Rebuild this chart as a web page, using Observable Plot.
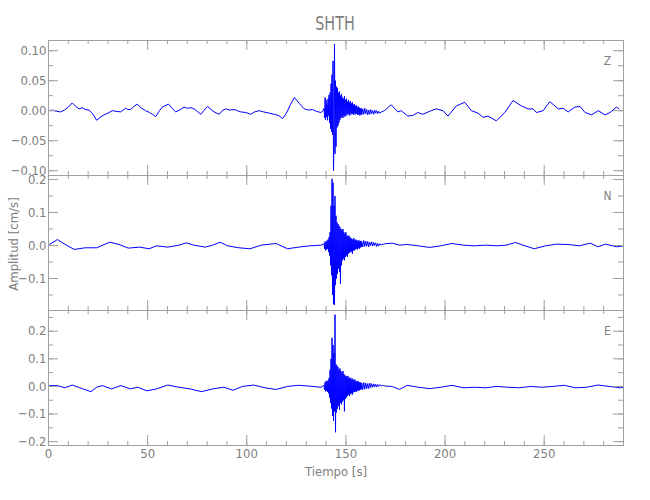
<!DOCTYPE html>
<html><head><meta charset="utf-8">
<script src="https://cdn.jsdelivr.net/npm/d3@7"></script>
<script src="https://cdn.jsdelivr.net/npm/@observablehq/plot@0.6"></script>
<style>
body{margin:0;background:#fff;}
#wrap{position:relative;width:650px;height:500px;font-family:"Liberation Sans Narrow","DejaVu Sans Condensed","Liberation Sans",sans-serif;color:#808080;}
.p{position:absolute;left:0;}
.lbl{position:absolute;white-space:nowrap;}
</style></head><body>
<div id="wrap">
 <div class="lbl" style="left:335px;top:23px;font-size:20px;transform:translate(-50%,-50%) scaleX(0.8);">SHTH</div>
 <div class="lbl" style="left:13px;top:244px;font-size:13px;transform:translate(-50%,-50%) rotate(-90deg);">Amplitud [cm/s]</div>
 <div class="lbl" style="left:336px;top:471px;font-size:13px;transform:translate(-50%,-50%);">Tiempo [s]</div>
</div>
<script>
// ---- data ----
const components = ["Z", "N", "E"];
const xMajor = [0, 50, 100, 150, 200, 250];
const burstStart = 139, burstStep = 0.25;

// Z component: quiet part [t, v] and burst samples
const zQuiet = [[0,0],[2,0.001],[4,-0.001],[6.1,-0.002],[8,0.001],[10,0.006],[12,0.013],[13.5,0.008],[15.4,0.003],[17,0.005],[18.5,0.002],[20.5,0.001],[22.5,-0.006],[24.3,-0.016],[26,-0.011],[28,-0.007],[30,-0.004],[32.2,0],[34,-0.001],[36.4,-0.002],[38.9,0.004],[40,0.002],[41.4,0.002],[43,0.007],[44.8,0.011],[46.5,0.005],[49,0],[51,-0.003],[52.5,-0.006],[54.1,-0.010],[55.5,-0.002],[57.4,0.006],[60.5,0.011],[62.3,0.004],[64.2,-0.002],[66,0.001],[68.4,0.006],[70,0.004],[71.8,0.005],[73.4,0.003],[75,-0.001],[76.8,-0.006],[78.5,0.001],[80.2,0.007],[82,0.002],[83.5,-0.002],[86.1,-0.006],[88,0.001],[89.4,0.003],[91.5,0.001],[93.6,0.002],[95.3,0],[97,-0.002],[99.5,-0.003],[102,-0.006],[104,-0.002],[106.2,0],[108.5,-0.002],[111.3,-0.004],[113.8,-0.006],[116,-0.008],[118.1,-0.013],[120,-0.004],[122,0.010],[124,0.022],[126.5,0.012],[129,0.003],[131,0.001],[133.2,0.002],[135,-0.001],[137.4,-0.003],[138.5,0],
 [158.5,0.003],[159,-0.006],[159.5,0.004],[160,-0.005],[160.5,0.002],[161,-0.007],[161.5,0.001],[162,-0.006],[162.5,0.002],[163,-0.005],[163.5,0],[164,-0.006],[164.5,0.001],[165,-0.004],[165.5,0],[166,-0.005],[166.5,-0.001],[167,-0.004],[168,-0.002],
 [169.4,0],[172.8,0.010],[176.2,-0.002],[177.9,0],[181.2,-0.009],[183.7,-0.008],[186.3,-0.003],[188.8,-0.006],[193,0],[195.6,0.003],[199,0],[201.5,-0.009],[205.7,0.008],[209.9,0.014],[213.3,0],[216.6,-0.004],[219.2,-0.011],[221.7,-0.009],[225.9,-0.017],[230.1,-0.003],[234.3,0.017],[238.5,0.008],[241.9,0.003],[244.4,0.003],[246.1,-0.003],[249.5,0],[252.8,0.015],[255.4,0.008],[257.1,0.003],[259.6,0.004],[262.1,-0.002],[265.5,0.006],[268.1,0.007],[270.6,-0.003],[273.9,-0.007],[277.3,0],[280.7,-0.007],[283.2,-0.003],[286.5,0.006],[287.7,0.003]];
const zBurst = [0.004,-0.012,0.022,-0.015,0.018,-0.010,0.012,-0.016,0.020,-0.008,0.026,-0.020,0.030,-0.030,0.045,-0.035,
 0.060,-0.040,0.083,-0.100,-0.030,0.111,-0.072,0.050,-0.060,0.040,-0.028,0.038,-0.025,0.030,-0.020,0.032,
 -0.015,0.025,-0.012,0.028,-0.010,0.022,-0.012,0.020,-0.008,0.024,-0.010,0.018,-0.006,0.020,-0.008,0.015,
 -0.005,0.018,-0.006,0.014,-0.008,0.016,-0.004,0.012,-0.006,0.014,-0.005,0.010,-0.007,0.011,-0.004,0.008,
 -0.006,0.009,-0.005,0.006,-0.007,0.007,-0.006,0.005,-0.008,0.004,-0.006,0.004,-0.007];

// N component
const nQuiet = [[0,0.002],[0.5,0.003],[4.5,0.018],[7.3,0.007],[12.9,-0.012],[18.6,-0.007],[24.3,-0.007],[30.9,0.010],[35.6,0.003],[40.3,-0.008],[46,-0.005],[50.7,-0.010],[54.5,-0.001],[60.1,-0.005],[65.8,0.001],[69.5,0.008],[73.3,0.001],[79,-0.005],[82.8,0.001],[86.5,0.010],[90.3,-0.001],[96,-0.007],[101.6,-0.010],[107.3,0.001],[114.8,0.006],[120.5,-0.010],[126.1,-0.005],[131.8,-0.001],[137.5,0.001],
 [158.5,-0.004],[159,0.015],[159.5,-0.003],[160,0.013],[160.5,-0.002],[161,0.012],[161.5,-0.004],[162,0.010],[162.5,0],[163,0.011],[163.5,-0.002],[164,0.009],[164.5,0],[165,0.008],[165.5,-0.003],[166,0.006],[166.5,-0.002],[167,0.005],[168,0.002],
 [169.5,0.005],[173.3,0.007],[177.1,0.001],[180.9,0.003],[186.5,-0.001],[192.2,-0.006],[197.8,-0.001],[203.5,0.006],[209.2,0.001],[214.8,-0.001],[220.5,0.001],[226.1,-0.001],[230.8,0.001],[235.6,0.009],[239.3,0.001],[245,-0.010],[250.7,-0.001],[256.3,0.004],[262,0.003],[267.7,-0.001],[273.3,0.007],[277.1,-0.004],[280.9,0.004],[286.5,-0.004],[290,-0.001]];
const nBurst = [0.005,-0.010,0.012,-0.015,0.010,-0.012,0.015,-0.010,0.018,-0.020,0.025,-0.030,0.040,-0.060,0.120,-0.090,
 0.202,-0.150,0.190,-0.178,0.120,-0.180,0.150,-0.120,0.090,-0.100,0.070,-0.085,0.065,-0.070,0.060,-0.080,
 0.055,-0.116,0.050,-0.060,0.045,-0.045,0.050,-0.040,0.040,-0.045,0.035,-0.035,0.040,-0.030,0.030,-0.035,
 0.028,-0.025,0.030,-0.022,0.025,-0.020,0.022,-0.018,0.020,-0.025,0.018,-0.015,0.022,-0.015,0.016,-0.012,
 0.018,-0.010,0.015,-0.012,0.014,-0.008,0.016,-0.010,0.012,-0.006,0.014,-0.005,0.012];

// E component
const eQuiet = [[0,0.002],[0.5,0.003],[4.5,0.003],[8.2,-0.005],[12,0.005],[15.8,-0.005],[21.4,-0.019],[24.3,-0.003],[27.1,0.003],[31.8,-0.009],[36.5,0.003],[41.2,-0.009],[45,-0.003],[49.7,-0.016],[54.5,-0.009],[60.1,0.005],[65.8,-0.003],[71.4,-0.009],[77.1,-0.019],[82.8,-0.009],[88.4,-0.003],[93.1,-0.014],[97.8,0],[103.5,0.005],[109.2,-0.005],[114.8,-0.011],[120.5,0],[126.1,0.004],[131.8,0.001],[137.5,-0.003],
 [158.5,-0.012],[159,0.014],[159.5,-0.010],[160,0.012],[160.5,-0.008],[161,0.010],[161.5,-0.008],[162,0.012],[162.5,-0.004],[163,0.010],[163.5,-0.003],[164,0.009],[164.5,-0.002],[165,0.008],[165.5,-0.002],[166,0.007],[166.5,0],[167,0.006],[168,0.002],[169,0.004],[170,0.001],
 [173.3,0],[177.1,-0.011],[180.9,0.004],[186.5,-0.003],[192.2,-0.008],[197.8,-0.003],[203.5,0.004],[209.2,-0.005],[214.8,-0.003],[220.5,-0.005],[226.1,0],[231.8,-0.003],[237.5,-0.005],[243.1,0],[248.8,-0.003],[254.4,0],[260.1,0.004],[265.8,-0.005],[271.4,-0.003],[277.1,0.005],[282.8,0],[288.4,-0.005],[290,-0.004]];
const eBurst = [0.004,-0.012,0.015,-0.018,0.020,-0.015,0.018,-0.020,0.022,-0.025,0.030,-0.040,0.060,-0.060,0.100,-0.080,
 0.176,-0.106,0.150,-0.124,0.120,-0.090,0.260,-0.166,0.080,-0.094,0.075,-0.080,0.070,-0.070,0.060,-0.085,
 0.065,-0.060,0.055,-0.065,0.050,-0.055,0.056,-0.050,0.045,-0.090,0.040,-0.045,0.038,-0.040,0.035,-0.035,
 0.038,-0.030,0.030,-0.035,0.032,-0.028,0.030,-0.025,0.025,-0.030,0.028,-0.022,0.022,-0.020,0.025,-0.018,
 0.020,-0.020,0.018,-0.015,0.020,-0.016,0.015,-0.014,0.016,-0.012,0.014,-0.010,0.012];

const zYDomain = [-0.108, 0.117], nYDomain = [-0.197, 0.212], eYDomain = [-0.214, 0.275];
const zYMajor = [-0.10, -0.05, 0, 0.05, 0.10];
const zYMinor = [-0.1, -0.075, -0.05, -0.025, 0, 0.025, 0.05, 0.075, 0.1];
const nYMajor = [-0.1, 0, 0.1, 0.2];
const nYMinor = [-0.15, -0.1, -0.05, 0, 0.05, 0.1, 0.15, 0.2];
const eYMajor = [-0.2, -0.1, 0, 0.1, 0.2];
const eYMinor = [-0.2, -0.15, -0.1, -0.05, 0, 0.05, 0.1, 0.15, 0.2, 0.25];

// ---- build ----
function series(quiet, burst) {
  const pts = quiet.map(([t, v]) => ({t, v}));
  burst.forEach((v, i) => pts.push({t: burstStart + i * burstStep, v}));
  return pts.sort((a, b) => a.t - b.t);
}

const W = 650, ML = 48, MR = 27, FH = 135;
const FW = W - ML - MR;
const xMinor = d3.range(0, 291, 10);
const axisColor = "#a0a0a0";

function panel({data, domain, major, minor, fmt, name, top, marginTop, marginBottom, xLabels}) {
  const marks = [
    Plot.line(data, {x: "t", y: "v", stroke: "#0000ff", strokeWidth: 1, clip: true}),
    Plot.frame({stroke: axisColor}),
    Plot.tickY(major, {y: d => d, stroke: axisColor, insetRight: FW - 10}),
    Plot.tickY(minor, {y: d => d, stroke: axisColor, insetRight: FW - 5}),
    Plot.tickY(major, {y: d => d, stroke: axisColor, insetLeft: FW - 10}),
    Plot.tickY(minor, {y: d => d, stroke: axisColor, insetLeft: FW - 5}),
    Plot.tickX(xMajor, {x: d => d, stroke: axisColor, insetBottom: FH - 10}),
    Plot.tickX(xMinor, {x: d => d, stroke: axisColor, insetBottom: FH - 4}),
    Plot.tickX(xMajor, {x: d => d, stroke: axisColor, insetTop: FH - 10}),
    Plot.tickX(xMinor, {x: d => d, stroke: axisColor, insetTop: FH - 4}),
    Plot.axisY(major, {anchor: "left", tickSize: 0, tickPadding: 2, tickFormat: d3.format(fmt), label: null}),
    Plot.text([name], {frameAnchor: "top-right", dx: -16, dy: 21, textAnchor: "middle", lineAnchor: "middle", fill: "#808080", fontSize: 12})
  ];
  if (xLabels) marks.push(Plot.axisX(xMajor, {anchor: "bottom", tickSize: 0, tickPadding: 3, tickFormat: d => String(d), label: null}));
  const svg = Plot.plot({
    width: W, height: FH + marginTop + marginBottom,
    marginLeft: ML, marginRight: MR, marginTop, marginBottom,
    x: {domain: [0, 290], axis: null},
    y: {domain, axis: null},
    style: {background: "transparent", overflow: "visible", color: "#808080",
            fontFamily: '"Liberation Sans Narrow","DejaVu Sans Condensed","Liberation Sans",sans-serif', fontSize: "13px"},
    marks
  });
  svg.classList.add("p");
  svg.style.top = top + "px";
  svg.style.position = "absolute";
  document.getElementById("wrap").appendChild(svg);
}

panel({data: series(zQuiet, zBurst), domain: zYDomain, major: zYMajor, minor: zYMinor, fmt: ".2f", name: components[0], top: 0, marginTop: 40, marginBottom: 0});
panel({data: series(nQuiet, nBurst), domain: nYDomain, major: nYMajor, minor: nYMinor, fmt: ".1f", name: components[1], top: 175, marginTop: 0, marginBottom: 0});
panel({data: series(eQuiet, eBurst), domain: eYDomain, major: eYMajor, minor: eYMinor, fmt: ".1f", name: components[2], top: 310, marginTop: 0, marginBottom: 55, xLabels: true});
</script>
</body></html>
